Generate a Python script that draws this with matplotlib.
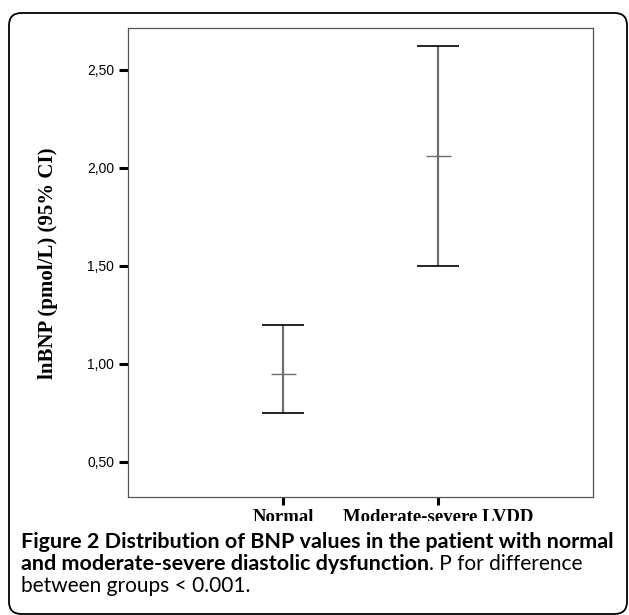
import matplotlib
matplotlib.use("Agg")
import matplotlib.pyplot as plt
from matplotlib.patches import FancyBboxPatch, Rectangle
import numpy as np

categories = ["Normal", "Moderate-severe LVDD"]
means = [0.95, 2.06]
lower = [0.75, 1.50]
upper = [1.20, 2.62]
yticks = [0.50, 1.00, 1.50, 2.00, 2.50]
ytick_labels = ["0,50", "1,00", "1,50", "2,00", "2,50"]
ylabel = "lnBNP (pmol/L) (95% CI)"
cap_bold1 = "Figure 2 Distribution of BNP values in the patient with normal"
cap_bold2 = "and moderate-severe diastolic dysfunction"
cap_reg2 = ". P for difference"
cap_reg3 = "between groups < 0.001."

W, H = 629, 615
fig = plt.figure(figsize=(W / 100, H / 100), dpi=100)

def fx(px):
    return px / W

def fy(py):
    return 1 - py / H

# outer rounded box
box = FancyBboxPatch((fx(9), fy(614)), fx(618), (614 - 13) / H,
                     boxstyle="round,pad=0,rounding_size=0.02",
                     transform=fig.transFigure, fill=False,
                     edgecolor="black", linewidth=1.3, zorder=1)
fig.patches.append(box)

ax = fig.add_axes([fx(128), fy(497), fx(593) - fx(128), (497 - 28) / H])
x = np.arange(1, len(categories) + 1)
m = np.array(means)
lo = m - np.array(lower)
hi = np.array(upper) - m
line, caps, bars = ax.errorbar(x, m, yerr=[lo, hi], fmt='none', ecolor="#6e6e6e",
                               elinewidth=1.6, capsize=14.8, capthick=1.2)
for c in caps:
    c.set_color("black")
    c.set_markeredgecolor("black")
    c.set_markerfacecolor("black")
ax.plot(x, m, linestyle='none', marker='_', markersize=18, color="#6e6e6e",
        markeredgewidth=1.0)

ax.set_xlim(0, 3)
ax.set_ylim(0.32, 2.714)
ax.set_yticks(yticks)
ax.set_yticklabels(ytick_labels, fontfamily="Liberation Sans", fontsize=10)
ax.set_xticks(x)
ax.set_xticklabels(categories, fontfamily="Liberation Serif", fontweight="bold",
                   fontsize=13.5)
ax.tick_params(axis='y', direction='out', length=6.5, width=2.2, pad=3.5, colors='black')
ax.tick_params(axis='x', direction='out', length=6, width=2.2, pad=3, colors='black')
for s in ax.spines.values():
    s.set_color("#555555")
    s.set_linewidth(0.9)

fig.text(fx(48), fy(263), ylabel, rotation=90, ha='center', va='center',
         fontfamily="Liberation Serif", fontweight="bold", fontsize=15)

# white band clipping bottom of category labels
fig.patches.append(Rectangle((fx(11), fy(532)), fx(614), (532 - 521) / H,
                             transform=fig.transFigure, facecolor="white",
                             edgecolor="none", zorder=5))

# caption
capfont = "Lato"
fig.canvas.draw()
r = fig.canvas.get_renderer()
t1 = fig.text(fx(21), fy(542), cap_bold1, ha='left', va='center', fontfamily=capfont,
              fontweight='bold', fontsize=11, zorder=6)
bb = t1.get_window_extent(r)
fs = 11 * (612 - 21) / bb.width
t1.set_fontsize(fs)
t2 = fig.text(fx(21), fy(564), cap_bold2, ha='left', va='center', fontfamily=capfont,
              fontweight='bold', fontsize=fs, zorder=6)
t4 = fig.text(fx(21), fy(586), cap_reg3, ha='left', va='center', fontfamily=capfont,
              fontsize=fs, zorder=6)
fig.canvas.draw()
bb4 = t4.get_window_extent(r)
fs_reg = fs * (250 - 21) / bb4.width
t4.set_fontsize(fs_reg)
bb2 = t2.get_window_extent(r)
fig.text(bb2.x1 / W, fy(564), cap_reg2, ha='left', va='center', fontfamily=capfont,
         fontsize=fs_reg, zorder=6)

fig.savefig("out.png", dpi=100)
